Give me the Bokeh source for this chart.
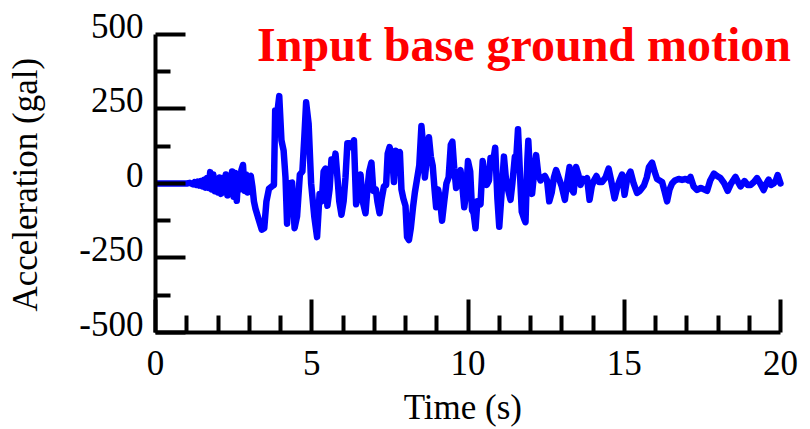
from bokeh.plotting import figure
from bokeh.models import Range1d, FixedTicker, Label, ColumnDataSource
from bokeh.embed import file_html
from bokeh.resources import INLINE

# Time (s)
time_s = [0.0, 0.5, 1.0, 1.1, 1.2, 1.25, 1.3, 1.35, 1.4, 1.45, 1.5, 1.55, 1.6, 1.65, 1.7, 1.75,
          1.8, 1.85, 1.9, 1.95, 2.0, 2.05, 2.1, 2.15, 2.2, 2.25, 2.3, 2.35, 2.4, 2.45, 2.5,
          2.55, 2.6, 2.65, 2.7, 2.75, 2.8, 2.85, 2.9, 2.95, 3.0, 3.05, 3.1, 3.15, 3.2, 3.3,
          3.4, 3.48, 3.55, 3.63, 3.72, 3.79, 3.83, 3.89, 3.96, 4.03, 4.1, 4.16, 4.21, 4.28,
          4.37, 4.45, 4.53, 4.62, 4.7, 4.76, 4.82, 4.9, 4.98, 5.08, 5.17, 5.25, 5.32, 5.38,
          5.44, 5.5, 5.57, 5.63, 5.7, 5.76, 5.83, 5.88, 5.95, 6.02, 6.08, 6.14, 6.22, 6.3,
          6.35, 6.42, 6.49, 6.56, 6.63, 6.72, 6.78, 6.84, 6.91, 6.97, 7.05, 7.1, 7.17, 7.24,
          7.31, 7.38, 7.43, 7.49, 7.57, 7.63, 7.69, 7.76, 7.82, 7.87, 7.93, 8.0, 8.05, 8.11,
          8.17, 8.24, 8.3, 8.37, 8.44, 8.51, 8.57, 8.62, 8.68, 8.75, 8.81, 8.87, 8.93, 8.98,
          9.04, 9.1, 9.17, 9.24, 9.31, 9.38, 9.45, 9.5, 9.56, 9.62, 9.7, 9.76, 9.82, 9.88,
          9.94, 10.0, 10.07, 10.13, 10.18, 10.24, 10.3, 10.4, 10.47, 10.54, 10.6, 10.67,
          10.72, 10.8, 10.87, 10.94, 11.0, 11.07, 11.15, 11.21, 11.28, 11.36, 11.42, 11.5,
          11.55, 11.6, 11.66, 11.72, 11.8, 11.84, 11.9, 11.93, 11.99, 12.05, 12.12, 12.18,
          12.25, 12.32, 12.39, 12.46, 12.53, 12.6, 12.68, 12.75, 12.82, 12.9, 13.0, 13.1,
          13.18, 13.25, 13.32, 13.38, 13.46, 13.53, 13.6, 13.68, 13.74, 13.81, 13.89, 13.96,
          14.03, 14.11, 14.19, 14.29, 14.4, 14.5, 14.58, 14.69, 14.78, 14.87, 14.93, 15.01,
          15.1, 15.2, 15.3, 15.41, 15.5, 15.63, 15.72, 15.79, 15.89, 15.97, 16.05, 16.13,
          16.21, 16.3, 16.37, 16.45, 16.53, 16.62, 16.74, 16.85, 16.96, 17.05, 17.12, 17.22,
          17.33, 17.45, 17.55, 17.65, 17.75, 17.87, 17.97, 18.08, 18.2, 18.31, 18.42, 18.56,
          18.64, 18.72, 18.85, 18.95, 19.04, 19.15, 19.25, 19.35, 19.46, 19.55, 19.62, 19.7,
          19.78, 19.85, 19.91, 20.0]

# Acceleration (gal)
accel_gal = [0, 0, 0, 2, -3, 4, -5, 6, -7, 8, -10, 12, -14, 18, -15, 38,
             -20, 30, -26, 15, -30, 20, -35, 18, -28, 30, -40, 25, -35, 40, -45,
             35, -58, 30, -20, 45, 62, -25, 30, -30, 20, 25, -10, -60, -85, -120,
             -155, -150, -60, -18, -10, -5, 245, 230, 293, 145, 110, 20, -135, 0,
             3, -150, -110, 30, 40, 150, 272, 200, 0, -110, -180, -35, -60, 40,
             50, -75, -20, 80, 60, 100, 10, -60, -105, -60, 20, 135, 135, 120,
             145, -70, -20, 30, -60, -100, -20, 40, 70, -25, -20, -60, -100, -50,
             -10, -5, 100, 122, 90, 5, 110, 100, 105, -20, -50, -75, -180, -190,
             -150, -80, -30, 15, 60, 193, 120, 20, 80, 155, 90, 60, -20, -80,
             -20, -50, -125, -60, 0, 20, 130, 140, 50, -15, 20, 45, -10, -80,
             -30, 75, 40, -90, -100, -150, -60, -70, 75, 20, -5, 10,
             85, 70, 120, -50, -145, -40, 90, 20, -20, -55, 0, 90,
             95, 182, 40, -95, -120, -130, 80, 143, 20, -35, 40, 95,
             30, 10, 20, 25, 10, -60, -30, 20, 45, 20, -10, -55,
             10, 55, -20, -30, 55, 30, -5, 15, 10, 18, -55, -10,
             10, 25, 5, 5, 20, 50, 10, -50, -10, 15, 30, -38,
             20, 40, 0, -32, -25, -7, 20, 55, 70, 40, 15, 10,
             5, -30, -60, -20, 0, 10, 15, 12, 15, 10, 22, -10,
             -22, -15, -20, -25, 10, 33, 25, 18, 0, -25, 0, 22,
             5, -10, 8, -5, -5, 5, 18, 0, -22, 0, 13, -5,
             0, 10, 28, 0]

x_major = [0, 5, 10, 15, 20]
x_minor = [1, 2, 3, 4, 6, 7, 8, 9, 11, 12, 13, 14, 16, 17, 18, 19]
y_major = [-500, -250, 0, 250, 500]
y_minor = [-375, -125, 125, 375]

title_text = "Input base ground motion"
x_label = "Time (s)"
y_label = "Acceleration (gal)"

FONT = "Liberation Serif"
NBSP = "\u00a0"

# The frame reaches a little past the axes so the red caption is not clipped;
# the axes themselves are bounded to 0..20 s and -500..500 gal.
p = figure(width=810, height=429, output_backend="svg", toolbar_location=None,
           x_range=Range1d(0, 20.512), y_range=Range1d(-500, 550),
           min_border_left=155, min_border_right=14, min_border_top=19, min_border_bottom=94)
p.outline_line_color = None
p.xgrid.visible = False
p.ygrid.visible = False
p.background_fill_color = "white"
p.border_fill_color = "white"

src = ColumnDataSource(dict(t=time_s, a=accel_gal))
p.line("t", "a", source=src, line_color="#0000FF", line_width=6.5,
       line_join="round", line_cap="round")

for ax, major, minor, mj, mn, so in ((p.xaxis[0], x_major, x_minor, 33, 17, 18),
                                      (p.yaxis[0], y_major, y_minor, 30, 15, 12)):
    ax.ticker = FixedTicker(ticks=major, minor_ticks=minor)
    ax.bounds = (major[0], major[-1])
    ax.axis_line_width = 4
    ax.axis_line_color = "black"
    ax.major_tick_line_width = 4
    ax.minor_tick_line_width = 4
    ax.major_tick_line_color = "black"
    ax.minor_tick_line_color = "black"
    ax.major_tick_in = mj
    ax.major_tick_out = 0
    ax.minor_tick_in = mn
    ax.minor_tick_out = 0
    ax.major_label_text_font = FONT
    ax.major_label_text_font_size = "35px"
    ax.major_label_text_color = "black"
    ax.major_label_standoff = so
    ax.axis_label_text_font = FONT
    ax.axis_label_text_font_size = "35px"
    ax.axis_label_text_font_style = "normal"
    ax.axis_label_text_color = "black"

p.xaxis[0].major_label_overrides = {v: str(v) for v in x_major}
# value labels sit slightly above their ticks, as in the original figure
p.yaxis[0].major_label_overrides = {v: str(v) + "\n" for v in y_major}
p.yaxis[0].major_label_text_line_height = 0.42

p.xaxis[0].axis_label = x_label + NBSP * 3
p.xaxis[0].axis_label_standoff = 10
p.yaxis[0].axis_label = y_label + NBSP * 2
p.yaxis[0].axis_label_standoff = 31

p.add_layout(Label(x=3.25, y=467, text=title_text, text_font=FONT, text_font_size="48px",
                   text_font_style="bold", text_color="#FF0000", text_baseline="alphabetic"))

open("out.html", "w").write(file_html(p, INLINE))
